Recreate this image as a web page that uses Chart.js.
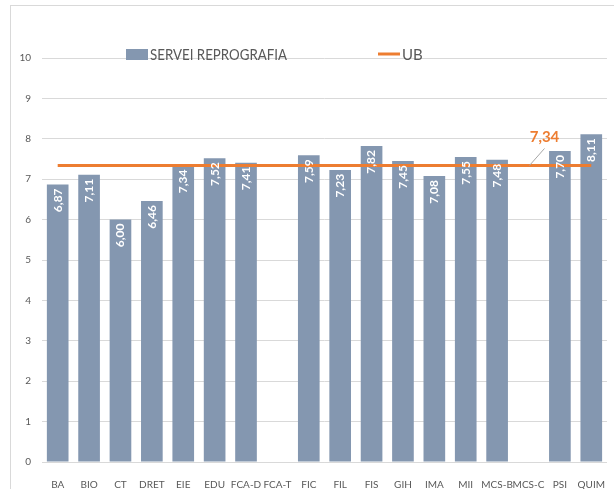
<!DOCTYPE html>
<html>
<head>
<meta charset="utf-8">
<script src="https://cdn.jsdelivr.net/npm/chart.js@4"></script>
<style>
  html, body { margin: 0; padding: 0; background: #fff; overflow: hidden; }
  #wrap { position: relative; width: 614px; height: 489px; }
  #frame { position: absolute; left: 10px; top: 5px; width: 620px; height: 500px; border: 1px solid #d9d9d9; box-sizing: border-box; }
  #chart { position: absolute; left: 0; top: 0; }
</style>
</head>
<body>
<div id="wrap">
  <div id="frame"></div>
  <canvas id="chart" width="614" height="489"></canvas>
</div>
<script>
const categories = ["BA", "BIO", "CT", "DRET", "EIE", "EDU", "FCA-D", "FCA-T", "FIC", "FIL", "FIS", "GIH", "IMA", "MII", "MCS-B", "MCS-C", "PSI", "QUIM"];
const reprografia = [6.87, 7.11, 6.00, 6.46, 7.34, 7.52, 7.41, null, 7.59, 7.23, 7.82, 7.45, 7.08, 7.55, 7.48, null, 7.70, 8.11];
const ub = [7.34, 7.34, 7.34, 7.34, 7.34, 7.34, 7.34, 7.34, 7.34, 7.34, 7.34, 7.34, 7.34, 7.34, 7.34, 7.34, 7.34, 7.34];
const ubLabelIndex = 15;
const yMax = 10;
const yStep = 1;

const BAR = "#8497b0";
const ORANGE = "#ed7d31";
const FONT = "Lato, 'Liberation Sans', sans-serif";

const fmt = (v) => v.toFixed(2).replace(".", ",");

// white rotated values inside the bars, plus the callout on the UB line
const labelsPlugin = {
  id: "labels",
  afterDatasetsDraw(chart) {
    const ctx = chart.ctx;
    const bars = chart.getDatasetMeta(0).data;
    ctx.save();
    ctx.fillStyle = "#fff";
    ctx.font = "bold 12px " + FONT;
    ctx.textAlign = "right";
    ctx.textBaseline = "middle";
    bars.forEach((bar, i) => {
      const v = reprografia[i];
      if (v == null) return;
      ctx.save();
      ctx.translate(bar.x, bar.y + 4);
      ctx.rotate(-Math.PI / 2);
      ctx.fillText(fmt(v), 0, 0);
      ctx.restore();
    });

    const pt = chart.getDatasetMeta(1).data[ubLabelIndex];
    ctx.strokeStyle = "#a6a6a6";
    ctx.lineWidth = 1;
    ctx.beginPath();
    ctx.moveTo(pt.x + 1, pt.y);
    ctx.lineTo(pt.x + 16, pt.y - 17);
    ctx.stroke();
    ctx.fillStyle = ORANGE;
    ctx.font = "bold 15px " + FONT;
    ctx.textAlign = "center";
    ctx.textBaseline = "middle";
    ctx.fillText(fmt(ub[ubLabelIndex]), pt.x + 16, pt.y - 28);
    ctx.restore();
  },
};

// legend drawn by hand so it can sit over the top gridline
const legendPlugin = {
  id: "customLegend",
  afterDraw(chart) {
    const ctx = chart.ctx;
    const ds = chart.data.datasets;
    ctx.save();
    ctx.font = "15px " + FONT;
    ctx.textBaseline = "middle";
    ctx.textAlign = "left";
    ctx.fillStyle = ds[0].backgroundColor;
    ctx.fillRect(126, 49, 22, 11);
    ctx.fillStyle = "#595959";
    ctx.fillText(ds[0].label, 150, 55, 137);
    ctx.strokeStyle = ds[1].borderColor;
    ctx.lineWidth = 3;
    ctx.beginPath();
    ctx.moveTo(378, 54);
    ctx.lineTo(400, 54);
    ctx.stroke();
    ctx.fillStyle = "#595959";
    ctx.fillText(ds[1].label, 402, 55);
    ctx.restore();
  },
};

new Chart(document.getElementById("chart").getContext("2d"), {
  data: {
    labels: categories,
    datasets: [
      {
        type: "bar",
        label: "SERVEI REPROGRAFIA",
        data: reprografia,
        backgroundColor: BAR,
        categoryPercentage: 1,
        barPercentage: 0.69,
        order: 1,
      },
      {
        type: "line",
        label: "UB",
        data: ub,
        borderColor: ORANGE,
        borderWidth: 3,
        pointRadius: 0,
        fill: false,
        order: 0,
      },
    ],
  },
  options: {
    responsive: false,
    animation: false,
    layout: { padding: { top: 58, left: 0, right: 0, bottom: 0 } },
    plugins: {
      legend: { display: false },
      tooltip: { enabled: false },
    },
    scales: {
      x: {
        grid: { display: false },
        border: { color: "#d9d9d9" },
        ticks: {
          autoSkip: false,
          maxRotation: 0,
          color: "#595959",
          font: { family: FONT, size: 10 },
          padding: 9,
        },
        afterFit: (s) => { s.height = 27; },
      },
      y: {
        min: 0,
        max: yMax,
        grid: { color: "#d9d9d9", drawTicks: false },
        border: { display: false },
        ticks: {
          stepSize: yStep,
          color: "#595959",
          font: { family: FONT, size: 10 },
          padding: 11,
        },
        afterFit: (s) => { s.width = 42; },
      },
    },
  },
  plugins: [labelsPlugin, legendPlugin],
});
</script>
</body>
</html>
